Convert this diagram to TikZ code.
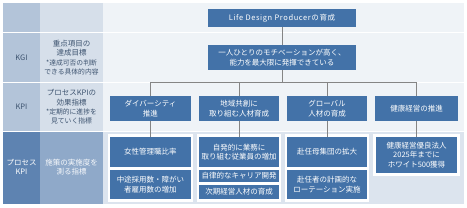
\documentclass[tikz,border=0pt]{standalone}
\usepackage{fontspec}
\setmainfont{Noto Sans CJK JP}
\begin{document}
\begin{tikzpicture}[x=1pt,y=-1pt,
  box/.style={fill=boxblue,text=white,inner sep=0pt,align=center,font=\fontsize{7.5}{9.5}\selectfont},
  conn/.style={draw=lineg,line width=0.6pt},
  lbl/.style={inner sep=0pt,align=center,text=labtext,font=\fontsize{7.5}{9.3}\selectfont},
  grp/.style={fill=white,draw=none}]
\definecolor{boxblue}{HTML}{4372A8}
\definecolor{lineg}{HTML}{858585}
\definecolor{col1}{HTML}{B3C4D9}
\definecolor{col2}{HTML}{D6DFEA}
\definecolor{rightbg}{HTML}{EFF3F7}
\definecolor{pcol1}{HTML}{5E83B1}
\definecolor{pcol2}{HTML}{8FA9C9}
\definecolor{pright}{HTML}{DCE4EE}
\definecolor{labtext}{HTML}{3E5470}
\useasboundingbox (0,0) rectangle (467,208);
\fill[white] (0,0) rectangle (467,208);
% backgrounds
\fill[col1] (3,3) rectangle (40,131);
\fill[col2] (40,3) rectangle (103,131);
\fill[rightbg] (103,3) rectangle (464,131);
\fill[pcol1] (3,132) rectangle (40,204);
\fill[pcol2] (40,132) rectangle (103,204);
\fill[pright] (103,132) rectangle (464,204);
\fill[white] (3,32.5) rectangle (464,33.5);
\fill[white] (3,82) rectangle (464,83);
\fill[white] (3,131) rectangle (464,132);
% left labels
\node[lbl] (lkgi) at (21.5,57.5) {KGI};
\node[lbl] (lkpi) at (21.5,107) {KPI};
\node[lbl,text=white] (lpkpi) at (21.5,167) {プロセス\\KPI};
\node[lbl] (dkgi) at (71.5,57.5) {重点項目の\\達成目標\\{\fontsize{6.8}{9}\selectfont *達成可否の判断}\\{\fontsize{6.8}{9}\selectfont できる具体的内容}};
\node[lbl] (dkpi) at (71.5,107) {プロセスKPIの\\効果指標\\{\fontsize{6.8}{9}\selectfont *定期的に進捗を}\\{\fontsize{6.8}{9}\selectfont 見ていく指標}};
\node[lbl,text=white!92!pcol2] (dpkpi) at (71.5,167) {施策の実施度を\\測る指標};
% group white frames
\fill[grp] (108,134) rectangle (193,202);
\fill[grp] (197,134) rectangle (281,202);
\fill[grp] (285,134) rectangle (369,202);
\fill[grp] (373,134) rectangle (460,176);
% top nodes
\node[box,minimum width=148pt,minimum height=18pt,font=\fontsize{7.5}{9.5}\selectfont\addfontfeatures{LetterSpace=8}] (top) at (282,18) {Life Design Producerの育成};
\node[box,minimum width=148pt,minimum height=25pt] (kgi) at (282,57.5) {一人ひとりのモチベーションが高く、\\能力を最大限に発揮できている};
% KPI nodes
\node[box,minimum width=81pt,minimum height=25pt] (div) at (150.5,108.5) {ダイバーシティ\\推進};
\node[box,minimum width=80pt,minimum height=25pt] (reg) at (239,108.5) {地域共創に\\取り組む人材育成};
\node[box,minimum width=80pt,minimum height=25pt] (glo) at (327,108.5) {グローバル\\人材の育成};
\node[box,minimum width=83pt,minimum height=25pt] (hea) at (416.5,108.5) {健康経営の推進};
% process KPI nodes
\node[box,minimum width=81pt,minimum height=30pt] (d1) at (150.5,152) {女性管理職比率};
\node[box,minimum width=81pt,minimum height=29pt] (d2) at (150.5,184.5) {中途採用数・障がい\\者雇用数の増加};
\node[box,minimum width=80pt,minimum height=30pt] (r1) at (239,152) {自発的に業務に\\取り組む従業員の増加};
\node[box,minimum width=80pt,minimum height=12pt] (r2) at (239,176) {自律的なキャリア開発};
\node[box,minimum width=80pt,minimum height=14pt] (r3) at (239,192) {次期経営人材の育成};
\node[box,minimum width=80pt,minimum height=30pt] (g1) at (327,152) {赴任母集団の拡大};
\node[box,minimum width=80pt,minimum height=29pt] (g2) at (327,184.5) {赴任者の計画的な\\ローテーション実施};
\node[box,minimum width=81pt,minimum height=36pt] (h1) at (416.5,155) {健康経営優良法人\\2025年までに\\ホワイト500獲得};
% connectors
\coordinate (bus) at (282,82);
\draw[conn] (top.south) -- (kgi.north);
\draw[conn] (kgi.south) -- (bus);
\draw[conn] (div.north) -- (div.north |- bus) -- (hea.north |- bus) -- (hea.north);
\draw[conn] (reg.north) -- (reg.north |- bus);
\draw[conn] (glo.north) -- (glo.north |- bus);
\draw[conn] (div.south) -- (d1.north);
\draw[conn] (reg.south) -- (r1.north);
\draw[conn] (glo.south) -- (g1.north);
\draw[conn] (hea.south) -- (h1.north);
\end{tikzpicture}
\end{document}
